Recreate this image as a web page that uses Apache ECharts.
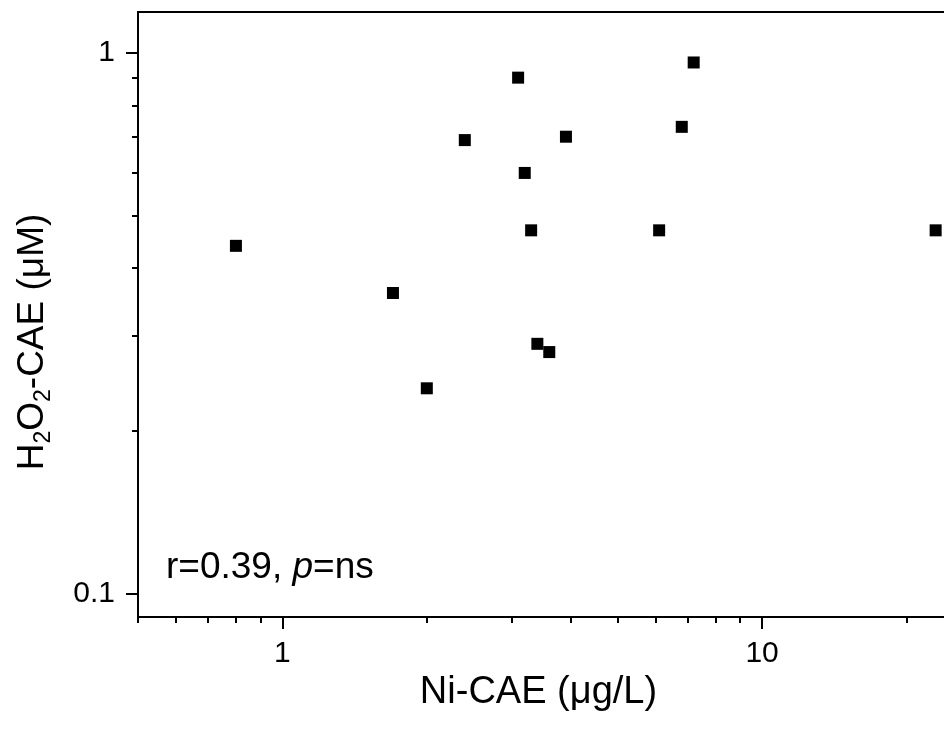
<!DOCTYPE html>
<html>
<head>
<meta charset="utf-8">
<script src="https://cdn.jsdelivr.net/npm/echarts@6/dist/echarts.min.js"></script>
<style>html,body{margin:0;padding:0;background:#fff;overflow:hidden;width:944px;height:731px}#c{width:1000px;height:731px}</style>
</head>
<body>
<div id="c"></div>
<script>
// Data
const niCAE   = [0.8, 1.7, 2.0, 2.4, 3.1, 3.2, 3.3, 3.4, 3.6, 3.9, 6.1, 6.8, 7.2, 23];
const h2o2CAE = [0.44, 0.36, 0.24, 0.69, 0.90, 0.60, 0.47, 0.29, 0.28, 0.70, 0.47, 0.73, 0.96, 0.47];
const xMajorTicks = [1, 10];
const xMinorTicks = [0.5, 0.6, 0.7, 0.8, 0.9, 2, 3, 4, 5, 6, 7, 8, 9, 20];
const yMajorTicks = [0.1, 1];
const yMinorTicks = [0.2, 0.3, 0.4, 0.5, 0.6, 0.7, 0.8, 0.9];
const annotation = 'r=0.39, ';

const FONT = 'Liberation Sans, Arial, sans-serif';
const points = niCAE.map((x, i) => [x, h2o2CAE[i]]);
const xMin = 0.5, xMax = 30, yMin = 0.0907, yMax = 1.19;

const chart = echarts.init(document.getElementById('c'), null, {renderer: 'canvas'});
const tickStyle = {color: '#000', width: 2};
chart.setOption({
  animation: false,
  backgroundColor: '#fff',
  grid: {left: 138, top: 12, width: 853, height: 605, show: true, borderColor: '#000', borderWidth: 2, backgroundColor: 'transparent'},
  xAxis: [
    {
      type: 'log', logBase: 10, min: xMin, max: xMax, position: 'bottom',
      axisLine: {show: true, lineStyle: {color: '#000', width: 2}},
      axisTick: {show: true, inside: false, length: 12, lineStyle: tickStyle, customValues: xMajorTicks},
      axisLabel: {show: true, customValues: xMajorTicks, margin: 22, color: '#000', fontSize: 30, fontFamily: FONT, formatter: v => String(v)},
      splitLine: {show: false}, minorTick: {show: false},
      name: 'Ni-CAE (μg/L)', nameLocation: 'middle', nameGap: 53,
      nameTextStyle: {color: '#000', fontSize: 38, fontFamily: FONT, padding: [0, 52, 0, 0]}
    },
    {
      type: 'log', logBase: 10, min: xMin, max: xMax, position: 'bottom',
      axisLine: {show: false},
      axisTick: {show: true, inside: false, length: 6, lineStyle: tickStyle, customValues: xMinorTicks},
      axisLabel: {show: false}, splitLine: {show: false}
    }
  ],
  yAxis: [
    {
      type: 'log', logBase: 10, min: yMin, max: yMax, position: 'left',
      axisLine: {show: true, lineStyle: {color: '#000', width: 2}},
      axisTick: {show: true, inside: false, length: 12, lineStyle: tickStyle, customValues: yMajorTicks},
      axisLabel: {show: true, customValues: yMajorTicks, margin: 23, color: '#000', fontSize: 30, fontFamily: FONT, formatter: v => String(v)},
      splitLine: {show: false}, minorTick: {show: false},
      name: '{b|H}{s|2}{b|O}{s|2}{b|-CAE (μM)}', nameLocation: 'middle', nameGap: 83,
      nameTextStyle: {
        color: '#000', fontSize: 37, fontFamily: FONT, padding: [0, 55, 0, 0],
        rich: {
          b: {fontSize: 37, fontFamily: FONT, color: '#000', lineHeight: 44, verticalAlign: 'middle'},
          s: {fontSize: 23, fontFamily: FONT, color: '#000', lineHeight: 6, verticalAlign: 'bottom'}
        }
      }
    },
    {
      type: 'log', logBase: 10, min: yMin, max: yMax, position: 'left',
      axisLine: {show: false},
      axisTick: {show: true, inside: false, length: 6, lineStyle: tickStyle, customValues: yMinorTicks},
      axisLabel: {show: false}, splitLine: {show: false}
    }
  ],
  series: [{
    type: 'scatter', xAxisIndex: 0, yAxisIndex: 0,
    symbol: 'rect', symbolSize: 12,
    itemStyle: {color: '#000', opacity: 1},
    data: points
  }],
  graphic: [{
    type: 'text', left: 166, top: 549, z: 10,
    style: {
      text: '{n|' + annotation + '}{i|p}{n|=ns}',
      rich: {
        n: {fontSize: 37, fontFamily: FONT, fill: '#000', color: '#000'},
        i: {fontSize: 37, fontFamily: FONT, fontStyle: 'italic', fill: '#000', color: '#000'}
      }
    }
  }]
});
</script>
</body>
</html>
